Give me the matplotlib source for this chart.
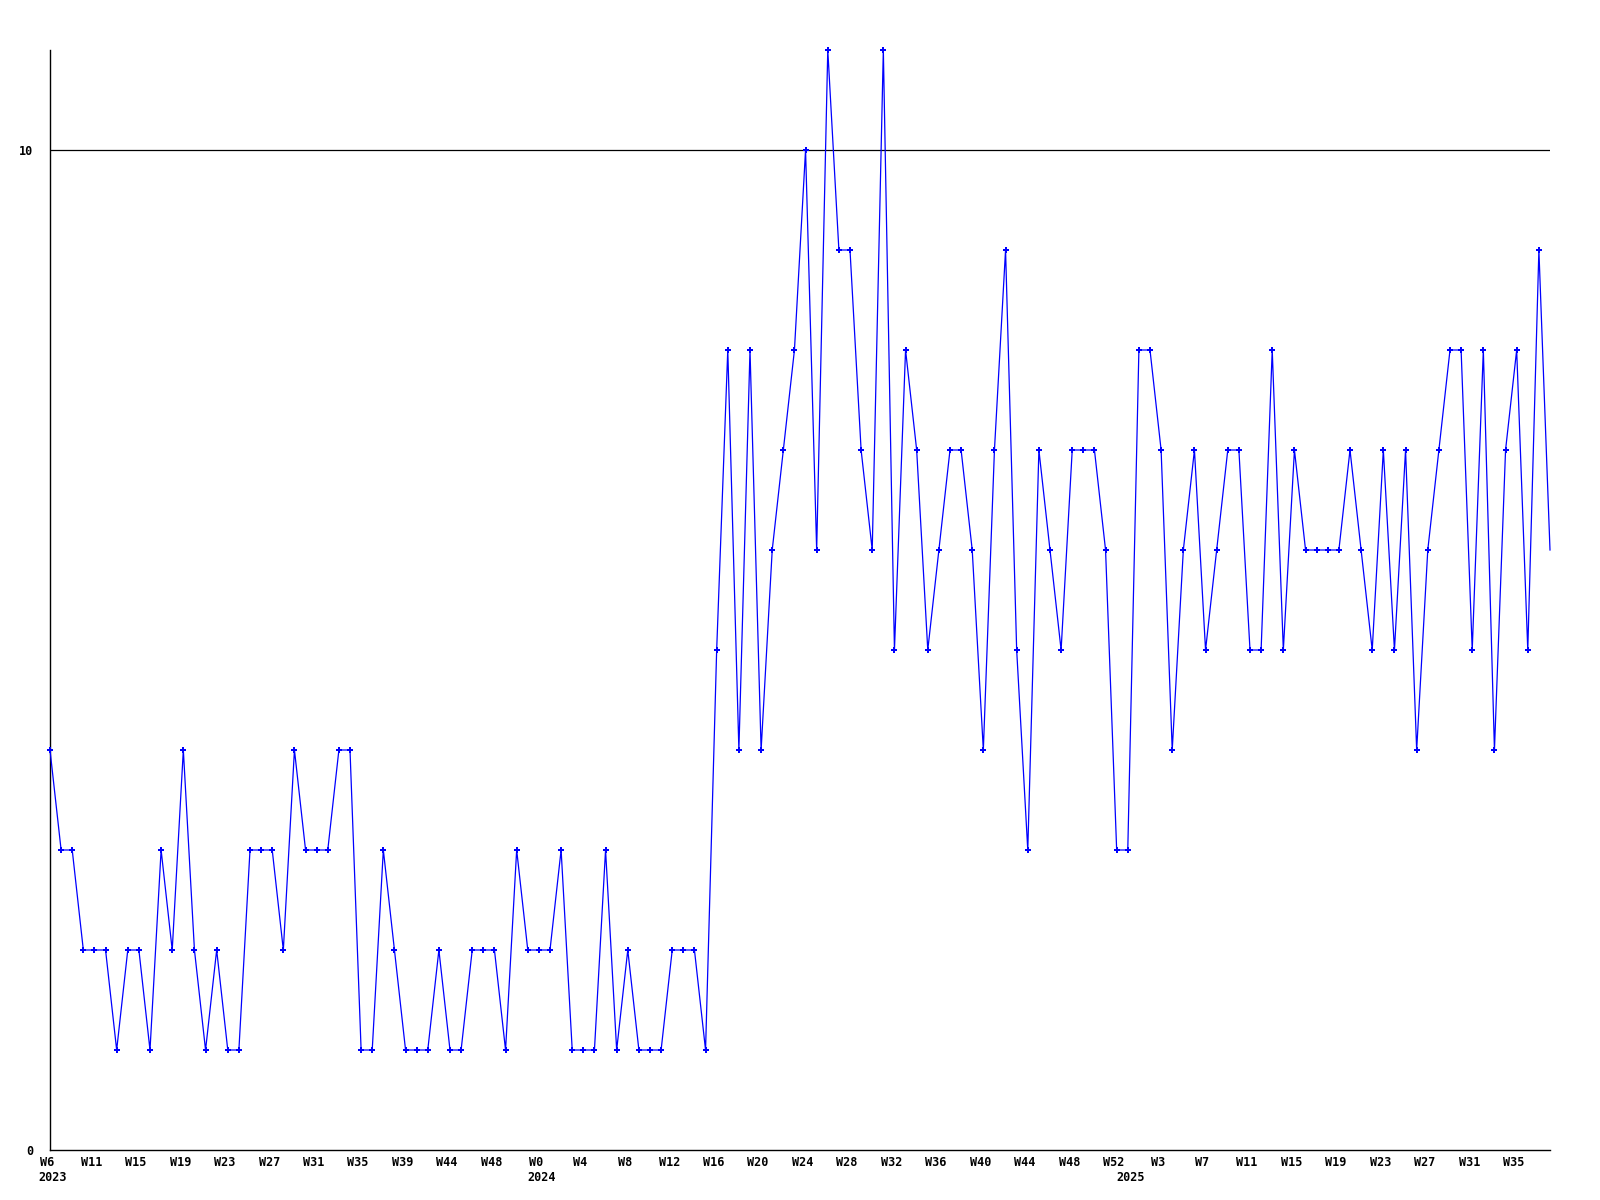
import matplotlib
matplotlib.use("Agg")
import matplotlib.pyplot as plt
import matplotlib.transforms as mtransforms
import numpy as np

# Weekly counts (W6 2023 .. W37 2025)
values = [
    4, 3, 3, 2, 2, 2, 1, 2, 2, 1, 3, 2, 4, 2, 1, 2, 1, 1, 3, 3, 3, 2, 4, 3, 3, 3, 4, 4, 1, 1, 3, 2,
    1, 1, 1, 2, 1, 1, 2, 2, 2, 1, 3, 2, 2, 2, 3, 1, 1, 1, 3, 1, 2, 1, 1, 1, 2, 2, 2, 1,
    5, 8, 4, 8, 4, 6, 7, 8, 10, 6, 11, 9, 9, 7, 6, 11, 5, 8, 7, 5, 6, 7, 7, 6, 4, 7, 9,
    5, 3, 7, 6, 5, 7, 7, 7, 6, 3, 3, 8, 8, 7, 4, 6, 7, 5, 6, 7, 7, 5, 5, 8, 5, 7,
    6, 6, 6, 6, 7, 6, 5, 7, 5, 7, 4, 6, 7, 8, 8, 5, 8, 4, 7, 8, 5, 9, 6,
]

week_labels = ["W6", "W11", "W15", "W19", "W23", "W27", "W31", "W35", "W39", "W44", "W48",
               "W0", "W4", "W8", "W12", "W16", "W20", "W24", "W28", "W32", "W36", "W40",
               "W44", "W48", "W52", "W3", "W7", "W11", "W15", "W19", "W23", "W27", "W31", "W35"]
label_step = 4

years = ["2023", "2024", "2025"]
year_index = [0, 44, 97]  # week index where each year label sits

x = np.arange(len(values))
font = {"family": "DejaVu Sans Mono", "weight": "bold", "size": 8.5}

fig = plt.figure(figsize=(16, 12), dpi=100)
ax = fig.add_axes([50 / 1600, 50 / 1200, 1500 / 1600, 1100 / 1200])

ax.plot(x, values, color="#0000ff", linewidth=0.9,
        marker="P", markersize=4, markeredgewidth=0,
        markevery=slice(0, len(values) - 1), clip_on=False, zorder=3)

ax.axhline(10, color="black", linewidth=0.9)

ax.spines["top"].set_visible(False)
ax.spines["right"].set_visible(False)
ax.spines["left"].set_linewidth(1.0)
ax.spines["bottom"].set_linewidth(1.0)

ax.set_yticks([0, 10])
ax.set_yticklabels(["0", "10"], fontdict=font)
ax.tick_params(axis="y", length=0, pad=12)

ticks = [i * label_step for i in range(len(week_labels))]
ax.set_xticks(ticks)
ax.set_xticklabels(week_labels, fontdict=font)
ax.tick_params(axis="x", length=0, pad=4.5)

# nudge week labels a little left, as in the original
shift = mtransforms.ScaledTranslation(-3 / 100, 0, fig.dpi_scale_trans)
for lbl in ax.get_xticklabels():
    lbl.set_transform(lbl.get_transform() + shift)

ax.set_xlim(0, len(values) - 1)
ax.set_ylim(0, 11)

year_shift = mtransforms.ScaledTranslation(3 / 100, 0, fig.dpi_scale_trans)
for yr, idx in zip(years, year_index):
    ax.text(idx, -0.0195, yr, transform=ax.get_xaxis_transform() + year_shift,
            ha="center", va="top", fontdict=font)

fig.savefig("out.png", dpi=100, facecolor="white")
